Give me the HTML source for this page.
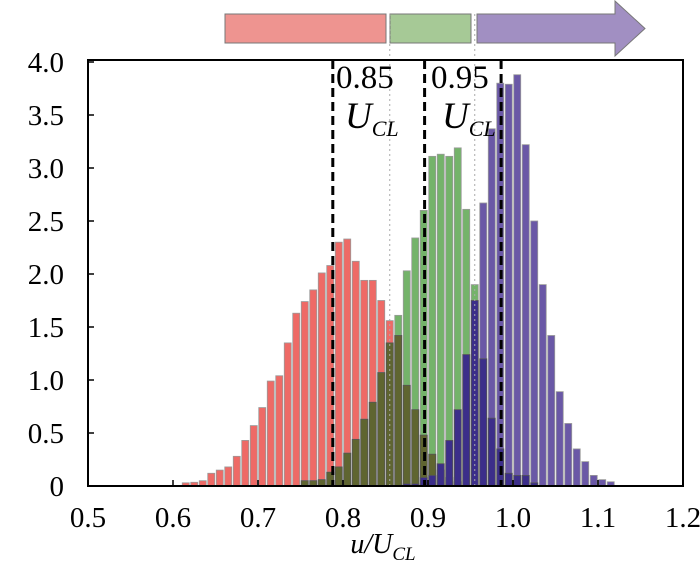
<!DOCTYPE html>
<html><head><meta charset="utf-8"><style>
html,body{margin:0;padding:0;background:#fff;}
svg{display:block;font-family:"Liberation Serif",serif;}
</style></head><body>
<svg id="chart" width="700" height="572" viewBox="0 0 700 572" xmlns="http://www.w3.org/2000/svg">
<g>
<rect x="225" y="14" width="161" height="29" fill="#ee9490" stroke="#777" stroke-width="1"/>
<rect x="390" y="14" width="81" height="29" fill="#a6c996" stroke="#777" stroke-width="1"/>
<polygon points="477,14 615,14 615,1 645,28.5 615,56 615,43 477,43" fill="#a18fc2" stroke="#777" stroke-width="1"/>
</g>
<g id="bars"></g>
<g id="lines"></g>
<rect x="88" y="60" width="595" height="426" fill="none" stroke="#000" stroke-width="2"/>
<g id="axes"></g>
<text x="336" y="88" font-size="33">0.85</text>
<text x="345" y="128" font-size="37" font-style="italic">U<tspan font-size="22" dy="8">CL</tspan></text>
<text x="431" y="88" font-size="33">0.95</text>
<text x="442" y="128" font-size="37" font-style="italic">U<tspan font-size="22" dy="8">CL</tspan></text>
<text x="383" y="553" font-size="28" text-anchor="middle" font-style="italic">u/U<tspan font-size="19" dy="7">CL</tspan></text>
</svg>
<script>
const redStart = 0.615;
const redValues = [0.03,0.035,0.05,0.12,0.15,0.18,0.28,0.43,0.57,0.74,0.99,1.04,1.35,1.63,1.74,1.85,2.01,2.08,2.30,2.33,2.12,1.94,1.94,1.75,1.56,1.42,0.95,0.72,0.48,0.30,0.15,0.08,0.04];
const greenStart = 0.755;
const greenValues = [0.05,0.05,0.06,0.13,0.18,0.31,0.44,0.63,0.79,1.07,1.35,1.61,2.03,2.34,2.60,3.11,3.13,3.11,3.19,2.61,1.90,1.20,0.64,0.35,0.12,0.10,0.10,0.03];
const purpleStart = 0.875;
const purpleValues = [0.02,0.02,0.08,0.10,0.21,0.43,0.72,1.24,1.75,2.67,3.37,3.80,3.79,3.88,3.22,2.50,1.90,1.42,0.89,0.59,0.35,0.23,0.10,0.06,0.04];
const xTicks = [0.5,0.6,0.7,0.8,0.9,1.0,1.1,1.2];
const xTickLabels = ["0.5","0.6","0.7","0.8","0.9","1.0","1.1","1.2"];
const yTicks = [0,0.5,1,1.5,2,2.5,3,3.5,4];
const yTickLabels = ["0","0.5","1.0","1.5","2.0","2.5","3.0","3.5","4.0"];
const dashedLines = [0.788,0.896,0.986];
const dottedLines = [0.855,0.955];
const binWidth = 0.01;

const NS="http://www.w3.org/2000/svg";
const X = v => 88 + (v-0.5)/0.7*595;
const Y = v => 486 - v/4*424;
const bars=document.getElementById('bars'), lines=document.getElementById('lines'), axes=document.getElementById('axes');
function mk(tag, parent, attrs){const e=document.createElementNS(NS,tag);for(const k in attrs)e.setAttribute(k,attrs[k]);parent.appendChild(e);return e;}
const bw = binWidth/0.7*595*0.82;
function getVal(start, arr, c){const i=Math.round((c-start)/binWidth);return (i>=0&&i<arr.length)?arr[i]:0;}
function drawSeries(start, arr, fill, name){
  arr.forEach((v,i)=>{const c=start+i*binWidth;
    const r=mk('rect',bars,{x:X(c)-bw/2,y:Y(v),width:bw,height:Y(0)-Y(v),fill:fill,stroke:'#9a9a9a','stroke-width':0.8});
    
    
  });
}
drawSeries(redStart, redValues, '#ee6a66', 'red');
drawSeries(greenStart, greenValues, '#74b36a', 'green');
drawSeries(purpleStart, purpleValues, '#6a58a6', 'purple');
function drawOverlap(sa,a,sb,b,fill,name){
  a.forEach((v,i)=>{const c=sa+i*binWidth;const m=Math.min(v,getVal(sb,b,c));if(m<=0)return;
    const r=mk('rect',bars,{x:X(c)-bw/2,y:Y(m),width:bw,height:Y(0)-Y(m),fill:fill,stroke:'#555','stroke-width':0.8});
    
    
  });
}
drawOverlap(redStart,redValues,greenStart,greenValues,'#5f6530','overlap-red-green-bar');
drawOverlap(greenStart,greenValues,purpleStart,purpleValues,'#3c2e8a','overlap-green-purple-bar');
dottedLines.forEach(v=>{const l=mk('line',lines,{x1:X(v),x2:X(v),y1:14,y2:486,stroke:'#aaa','stroke-width':1,'stroke-dasharray':'2,3'});
  
  });
dashedLines.forEach(v=>{const l=mk('line',lines,{x1:X(v),x2:X(v),y1:60,y2:486,stroke:'#000','stroke-width':3,'stroke-dasharray':'9,5'});
  
  });
xTicks.forEach((v,i)=>{
  const t=mk('line',axes,{x1:X(v),x2:X(v),y1:486,y2:480,stroke:'#000','stroke-width':1.5});
  
  
  const s=mk('text',axes,{x:X(v),y:527,'font-size':29,'text-anchor':'middle'});s.textContent=xTickLabels[i];
  
  
});
yTicks.forEach((v,i)=>{
  const t=mk('line',axes,{x1:88,x2:94,y1:Y(v),y2:Y(v),stroke:'#000','stroke-width':1.5});
  
  
  const s=mk('text',axes,{x:64,y:Y(v)+10,'font-size':29,'text-anchor':'end'});s.textContent=yTickLabels[i];
  
  
});
</script>
</body></html>
